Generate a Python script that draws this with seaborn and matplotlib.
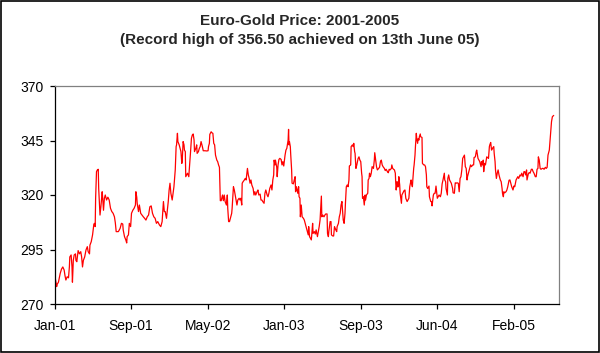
import pandas as pd
import matplotlib
matplotlib.use('agg')
import matplotlib.pyplot as plt
import seaborn as sns

# trading-day index (0 = first obs of Jan-01) and euro gold price
day = [
    0, 1, 2, 5, 6, 9, 13, 16, 19, 22, 24, 26, 29, 32, 34, 35, 38, 40, 41, 43, 45, 48, 49, 51, 54, 57, 60,
    62, 64, 66, 69, 72, 75, 77, 80, 81, 84, 87, 90, 92, 93, 94, 96, 98, 100, 101, 103, 104, 106, 109, 110,
    112, 114, 116, 119, 122, 125, 128, 131, 134, 137, 139, 141, 146, 150, 153, 156, 157, 160, 163, 165,
    166, 169, 171, 174, 176, 179, 182, 185, 186, 188, 189, 192, 194, 197, 200, 203, 206, 209, 212, 215,
    218, 221, 224, 227,
    230, 233, 236, 240, 243, 246, 249, 251, 253, 256, 258, 260, 262, 264, 266, 269, 271, 273, 275, 276,
    278, 279, 281, 282, 285, 287, 289, 291, 292, 294, 296, 297, 299, 300, 302, 304, 307, 308, 310, 311,
    313, 315, 317, 319, 320, 323, 325, 326, 329, 331, 333, 335, 338, 340, 344, 348, 351, 352, 354, 355,
    358, 360, 362, 364, 366, 368, 371, 373, 375, 377, 379, 381, 384, 386, 388, 390, 393, 395, 396, 398,
    400, 403, 405, 406, 409, 411, 413, 415, 417, 419, 422, 424, 426, 428, 429, 431, 434, 436, 438, 441,
    443, 445, 447, 449, 451, 454, 456,
    458, 460, 463, 465, 467, 470, 472, 474, 476, 479, 481, 483, 486, 488, 490, 492, 495, 497, 499, 501,
    502, 504, 505, 508, 509, 511, 513, 515, 518, 520, 522, 524, 527, 529, 531, 534, 535, 536, 537, 539,
    540, 542, 543, 546, 548, 550, 551, 553, 556, 558, 559, 561, 562, 564, 566, 569, 571, 573, 575, 578,
    580, 581, 583, 585, 587, 588, 590, 591, 594, 596, 598, 601, 603, 605, 607, 608, 610, 611, 613, 616,
    618, 620, 623, 624, 626, 627, 630, 632, 633, 636, 638, 640, 643, 645, 646, 649, 651, 653, 655, 657,
    658, 660, 662, 664, 665, 667, 669, 671, 673, 674, 677, 678, 681, 683, 684, 686,
    687, 689, 691, 694, 696, 698, 700, 702, 703, 704, 706, 708, 710, 711, 713, 716, 717, 719, 720, 722,
    724, 726, 729, 731, 732, 734, 736, 738, 741, 743, 745, 747, 749, 751, 754, 756, 758, 761, 763, 765,
    767, 770, 771, 773, 775, 777, 779, 780, 781, 783, 784, 786, 787, 789, 790, 793, 794, 796, 799, 801,
    803, 806, 808, 810, 812, 815, 816, 818, 819, 821, 822, 824, 825, 827, 828, 830, 831, 833, 834, 836,
    837, 840, 841, 844, 846, 848, 850, 851, 853, 856, 857, 860, 862, 863, 866, 868, 870, 872, 875, 877,
    879, 882, 884, 886, 888, 891, 892, 894, 895, 898, 899, 901, 903, 905, 907, 910, 911, 914,
    916, 918, 920, 923, 925, 927, 929, 931, 933, 935, 937, 939, 941, 943, 944, 946, 949, 951, 953, 956,
    958, 959, 962, 964, 965, 968, 970, 972, 975, 976, 978, 980, 981, 983, 985, 988, 990, 992, 994, 995,
    997, 999, 1001, 1004, 1005, 1007, 1008, 1010, 1012, 1014, 1016, 1019, 1021, 1023, 1024, 1026, 1027,
    1029, 1032, 1034, 1036, 1039, 1041, 1043, 1045, 1048, 1050, 1052, 1055, 1057, 1059, 1061, 1064, 1066,
    1068, 1071, 1073, 1075, 1077, 1079, 1080, 1083, 1085, 1087, 1090, 1092, 1094, 1096, 1099, 1101, 1103,
    1105, 1106, 1108, 1110, 1112, 1115, 1117, 1119, 1122, 1124, 1126, 1128, 1130, 1131, 1133, 1135, 1136,
    1138, 1141,
]
price = [
    290.5, 282, 281.5, 278, 279, 280, 284, 286, 287, 285.6, 283, 281, 282.5, 282, 287, 291.6, 292.5, 287,
    280, 290, 292.5, 293, 290, 289.4, 294.5, 293, 294, 291.6, 287, 290, 291.6, 294.8, 296.3, 294, 293, 297,
    298.6, 301.7, 306.7, 307, 305.5, 318.5, 330.7, 331.5, 331.8, 323, 314.6, 310.8, 314.6, 321.5, 319, 313,
    318.5, 320, 317.7, 319, 317.7, 313.9, 312.4, 311.6, 310, 307.3, 303.2, 303.2, 304.7, 307, 306.7, 304,
    300.9, 299.4, 298, 300.9, 301.7, 307, 305.5, 311.6, 313, 313.9, 315.4, 321.5, 319, 316.2, 312.4, 315.4,
    311.6, 310.8, 310, 309.3, 308.5, 310, 310.8, 314.6, 315, 311.6, 310,
    309.3, 307, 307.8, 306.2, 305.5, 307.8, 317, 312.4, 312.4, 309.3, 313, 317, 322.3, 325.4, 320.8, 317.7,
    320.8, 323.8, 329.2, 331.5, 342.2, 343, 348.3, 344.5, 343, 341.4, 339.9, 334.5, 336, 344.5, 343, 340.6,
    339.9, 328.4, 329.2, 330, 328.4, 331.5, 336.8, 339.9, 346, 347.5, 348, 345.2, 339.9, 341.4, 343, 339.1,
    339.9, 341.4, 342.2, 344.5, 342.2, 340.3, 340.3, 340.2, 340.3, 342.2, 343.7, 347.8, 349, 348.5, 348.3,
    343.7, 343, 338.3, 336, 335.3, 333.8, 332.7, 317.4, 317.4, 320, 317.4, 320, 317, 315.4, 320, 313.9,
    307.8, 307.8, 310, 311.6, 313.9, 323.8, 322.3, 320, 317.7, 315.4, 317.7, 318.5, 317.7, 318.5, 315.4,
    325.4, 326.1, 326.9, 327.6, 326.9, 332.2, 329.2, 327.6, 325.4, 326.9, 324.6, 323, 320,
    321.5, 320, 321.5, 322.3, 320, 320.4, 317.7, 317.7, 317, 316.2, 320.8, 322.3, 320, 319.2, 320.8, 323,
    324.6, 322.3, 326.9, 329.2, 336, 333.8, 336, 332.7, 328.4, 333.8, 336.3, 336.8, 336.3, 333.8, 335.3,
    333.3, 338.3, 340.6, 341.4, 345.2, 350.1, 343, 344.5, 342.2, 338.3, 331.5, 325.4, 325.1, 326.9, 328.4,
    321.5, 323.8, 320.8, 323.8, 319.2, 318.5, 310, 315.4, 310, 309.3, 308.5, 307, 305.5, 303.2, 301.7,
    305.5, 300.9, 300.1, 299.4, 301.7, 307, 302.4, 303.2, 302.1, 304, 300.9, 303.2, 305.5, 308.5, 312.4,
    319.5, 310, 310.8, 310, 310.8, 311.3, 311.3, 302.4, 300.9, 303.2, 307.8, 307.8, 301.7, 301.2, 301.2,
    305.5, 304, 303.2, 305.5, 307, 310, 311.6, 315.4, 317, 313.9, 308.5, 307, 311.6, 316.2, 323.8, 324.6,
    323.8, 326.9, 333.3, 333.8, 342.2, 343, 342.2, 343.7, 339.9,
    339.1, 332.2, 333.8, 336.8, 337.5, 336, 335.3, 330, 328.4, 318.5, 319.2, 315.4, 320, 317.7, 320, 320.8,
    326.9, 327.6, 330, 328.4, 330, 333, 332.2, 336, 339.4, 336, 333, 331.5, 332.2, 332.7, 335.3, 336,
    333.8, 333, 332.2, 331.2, 331.8, 330.7, 330.2, 331.8, 331.5, 332.2, 333.8, 332.2, 331.8, 331.5, 330,
    325.4, 322.3, 326.1, 323.8, 323.8, 328.4, 324.6, 320.8, 316.2, 320, 320.8, 322, 322.3, 318.5, 317,
    317.7, 318.5, 323.8, 326.9, 325.4, 323.8, 326.9, 332.2, 333.8, 338.3, 342.2, 348.3, 345.8, 343.7,
    345.8, 345.2, 346.7, 348, 346.7, 346.4, 334.5, 333.8, 333.8, 333, 329.2, 323.8, 323, 324.1, 319.2, 317,
    317, 315, 320, 320.8, 320.8, 324.1, 318.5, 319.2, 320, 319.2, 320.8, 325.1, 326.9, 330, 326.9, 326.1,
    323, 320, 327.6, 329.2, 326.9, 326.1, 325.4, 323, 321, 320.8,
    325.6, 325.4, 325.6, 325.4, 321.5, 327.6, 328.4, 331.5, 336.8, 337.5, 338.3, 333, 332.2, 326.9, 328.4,
    330, 332.2, 333.8, 333, 333.8, 333.8, 337.2, 337.5, 339.9, 340.6, 336.8, 336, 335.3, 333, 335.3, 333.8,
    336, 330.7, 334.5, 333.8, 337.5, 337.2, 336.8, 342.2, 343, 344.1, 340.6, 341.4, 342.2, 339.1, 335.3,
    331.5, 327.6, 330, 331.5, 329.2, 326.9, 326.1, 323, 320.8, 319.2, 321.5, 321, 321.5, 322.3, 323.8,
    326.8, 326.9, 325.4, 323.8, 322.3, 324.1, 323.8, 326.9, 327.6, 328.4, 327.6, 329.2, 328.7, 330, 328.4,
    330.7, 330.7, 329.2, 331.5, 326.9, 329.7, 330.3, 330, 331.8, 331.8, 330.7, 330, 328.4, 328.4, 331.8,
    332.2, 337.5, 336, 332.2, 331.8, 332.2, 332.2, 331.8, 332.7, 332.2, 332.7, 338.3, 339.9, 340.6, 345.8,
    350.6, 353.6, 355.9, 356.5,
]
tick_days = [0, 175, 350, 525, 700, 875, 1050]
tick_labels = ['Jan-01', 'Sep-01', 'May-02', 'Jan-03', 'Sep-03', 'Jun-04', 'Feb-05']
y_ticks = [270, 295, 320, 345, 370]

sns.set_style('white')
plt.rcParams['font.family'] = ['Liberation Sans', 'DejaVu Sans']

df = pd.DataFrame({'day': day, 'price': price})

fig = plt.figure(figsize=(6, 3.53), dpi=100)
ax = fig.add_axes([54.5 / 600, 49 / 353, 504 / 600, 218 / 353])
sns.lineplot(data=df, x='day', y='price', color='#ff0000', lw=0.9, ax=ax)

ax.set_xlim(0, 1152)
ax.set_ylim(270, 370)
ax.set_xticks(tick_days)
ax.set_xticklabels(tick_labels)
ax.set_yticks(y_ticks)
ax.set_xlabel('')
ax.set_ylabel('')

for side in ['top', 'right']:
    ax.spines[side].set_color('#808080')
for side in ['left', 'bottom']:
    ax.spines[side].set_color('black')
for s in ax.spines.values():
    s.set_linewidth(0.9)

ax.tick_params(axis='both', which='major', direction='out', bottom=True, left=True,
               length=3.5, width=0.9, color='black', labelsize=10, labelcolor='black')
ax.tick_params(axis='x', pad=7)
ax.tick_params(axis='y', pad=4.5)

fig.text(0.5, 1 - 21 / 353, 'Euro-Gold Price: 2001-2005', ha='center', va='center',
         fontsize=11, fontweight='bold')
fig.text(0.5, 1 - 40 / 353, '(Record high of 356.50 achieved on 13th June 05)', ha='center',
         va='center', fontsize=11, fontweight='bold')

# outer frame round the whole picture
fig.patches.append(plt.Rectangle((0.6 / 600, 0.6 / 353), 598.8 / 600, 351.8 / 353,
                                 transform=fig.transFigure, fill=False, ec='black', lw=1.2))

fig.savefig('out.png', dpi=100)
